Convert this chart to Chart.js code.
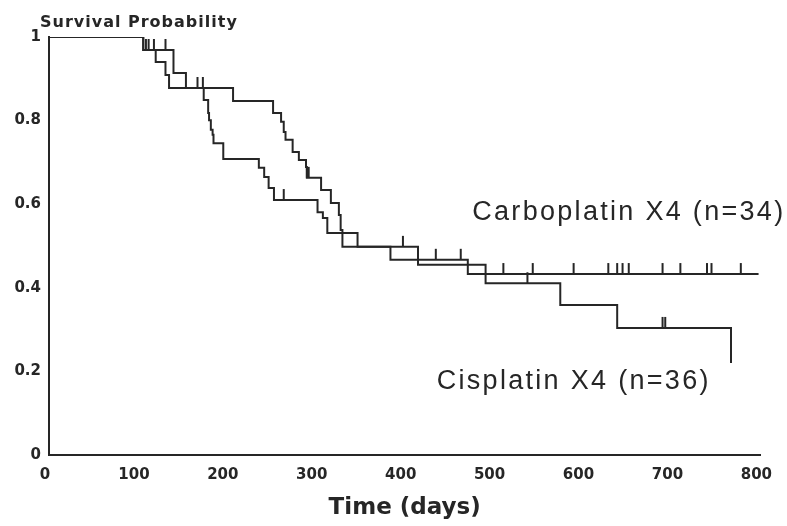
<html>
  <body style="margin:0;background:#fff">
    <script src="https://cdn.jsdelivr.net/npm/chart.js@4.4.1/dist/chart.umd.min.js"></script>
    <div style="width:787px;height:526px"><canvas id="kmChart" width="787" height="526"></canvas></div>

    <script>
      // Kaplan-Meier curves (days, survival probability)
      let carboDays = [0, 106, 140, 154, 207, 252, 261, 264, 266, 274, 281, 289, 290, 306, 317, 326, 328, 330, 384, 471, 798];
      let carboSurv = [1, 0.969, 0.914, 0.878, 0.847, 0.818, 0.797, 0.773, 0.754, 0.725, 0.706, 0.689, 0.663, 0.634, 0.603, 0.574, 0.538, 0.498, 0.467, 0.433, 0.433];

      let cisDays = [0, 106, 120, 131, 135, 174, 179, 180, 182, 184, 185, 196, 236, 242, 247, 253, 302, 308, 313, 347, 415, 491, 575, 639, 767, 767];
      let cisSurv = [1, 0.969, 0.940, 0.909, 0.878, 0.849, 0.818, 0.801, 0.778, 0.766, 0.746, 0.708, 0.687, 0.665, 0.639, 0.610, 0.581, 0.567, 0.531, 0.498, 0.455, 0.411, 0.359, 0.304, 0.304, 0.220];

      // censored observations (tick marks)
      let carboCensorDays = [109, 131, 167, 173, 290, 292, 435, 463, 511, 544, 590, 629, 639, 645, 652, 690, 710, 740, 745, 778];
      let carboCensorSurv = [0.969, 0.969, 0.878, 0.878, 0.663, 0.663, 0.467, 0.467, 0.433, 0.433, 0.433, 0.433, 0.433, 0.433, 0.433, 0.433, 0.433, 0.433, 0.433, 0.433];
      let cisCensorDays = [112, 118, 264, 398, 538, 690, 693];
      let cisCensorSurv = [0.969, 0.969, 0.610, 0.498, 0.411, 0.304, 0.304];

      let xTicks = [0, 100, 200, 300, 400, 500, 600, 700, 800];
      let yTicks = [0, 0.2, 0.4, 0.6, 0.8, 1];

      // curve labels: text, anchor day, anchor probability
      let curveLabels = [
        ['Carboplatin X4 (n=34)', 476, 0.562],
        ['Cisplatin X4 (n=36)', 436, 0.158]
      ];

      let ink = '#262626';

      function toPoints(xs, ys) {
        return xs.map((x, i) => ({ x: x, y: ys[i] }));
      }

      // small upward tick used as the censor marker
      function makeTick() {
        let c = document.createElement('canvas');
        c.width = 4;
        c.height = 24;
        let g = c.getContext('2d');
        g.strokeStyle = ink;
        g.lineWidth = 2;
        g.beginPath();
        g.moveTo(2, 1);
        g.lineTo(2, 12);
        g.stroke();
        return c;
      }
      let tick = makeTick();

      let textPlugin = {
        id: 'texts',
        afterDraw(chart) {
          let ctx = chart.ctx;
          let xs = chart.scales.x, ys = chart.scales.y;
          ctx.save();
          ctx.fillStyle = ink;
          ctx.textBaseline = 'alphabetic';
          ctx.textAlign = 'left';
          ctx.font = 'bold 16px "DejaVu Sans"';
          ctx.letterSpacing = '1px';
          ctx.fillText('Survival Probability', chart.chartArea.left - 9, 27);
          ctx.font = '27px "Liberation Sans"';
          ctx.letterSpacing = '2.3px';
          curveLabels.forEach(l => {
            ctx.fillText(l[0], xs.getPixelForValue(l[1]), ys.getPixelForValue(l[2]));
          });
          ctx.restore();
        }
      };

      let ctx = document.getElementById('kmChart').getContext('2d');
      let myChart = new Chart(ctx, {
        type: 'line',
        data: {
          datasets: [
            {
              label: 'Carboplatin X4',
              data: toPoints(carboDays, carboSurv),
              borderColor: ink,
              borderWidth: 2,
              stepped: true,
              pointRadius: 0
            },
            {
              label: 'Cisplatin X4',
              data: toPoints(cisDays, cisSurv),
              borderColor: ink,
              borderWidth: 2,
              stepped: true,
              pointRadius: 0
            },
            {
              label: 'Carboplatin censored',
              data: toPoints(carboCensorDays, carboCensorSurv),
              showLine: false,
              pointStyle: tick,
              pointRadius: 6
            },
            {
              label: 'Cisplatin censored',
              data: toPoints(cisCensorDays, cisCensorSurv),
              showLine: false,
              pointStyle: tick,
              pointRadius: 6
            }
          ]
        },
        options: {
          responsive: false,
          animation: false,
          layout: { padding: { top: 37, right: 25, left: 0, bottom: 0 } },
          plugins: { legend: { display: false }, tooltip: { enabled: false } },
          scales: {
            x: {
              type: 'linear',
              min: 0,
              max: 800,
              afterFit: s => { s.height = 71; },
              afterBuildTicks: s => { s.ticks = xTicks.map(v => ({ value: v })); },
              grid: { display: false, drawTicks: false },
              border: { display: true, color: ink, width: 2 },
              ticks: { color: ink, padding: 11, labelOffset: -4, font: { family: 'DejaVu Sans', size: 15, weight: 'bold' } },
              title: {
                display: true,
                text: 'Time (days)',
                color: ink,
                padding: { top: 0, bottom: 4 },
                font: { family: 'DejaVu Sans', size: 23, weight: 'bold' }
              }
            },
            y: {
              min: 0,
              max: 1,
              afterFit: s => { s.width = 49; },
              afterBuildTicks: s => { s.ticks = yTicks.map(v => ({ value: v })); },
              grid: { display: false, drawTicks: false },
              border: { display: true, color: ink, width: 2 },
              ticks: {
                color: ink,
                padding: 8,
                font: { family: 'DejaVu Sans', size: 15, weight: 'bold' },
                callback: v => String(+v.toFixed(1))
              }
            }
          }
        },
        plugins: [textPlugin]
      });
    </script>
  </body>
</html>
